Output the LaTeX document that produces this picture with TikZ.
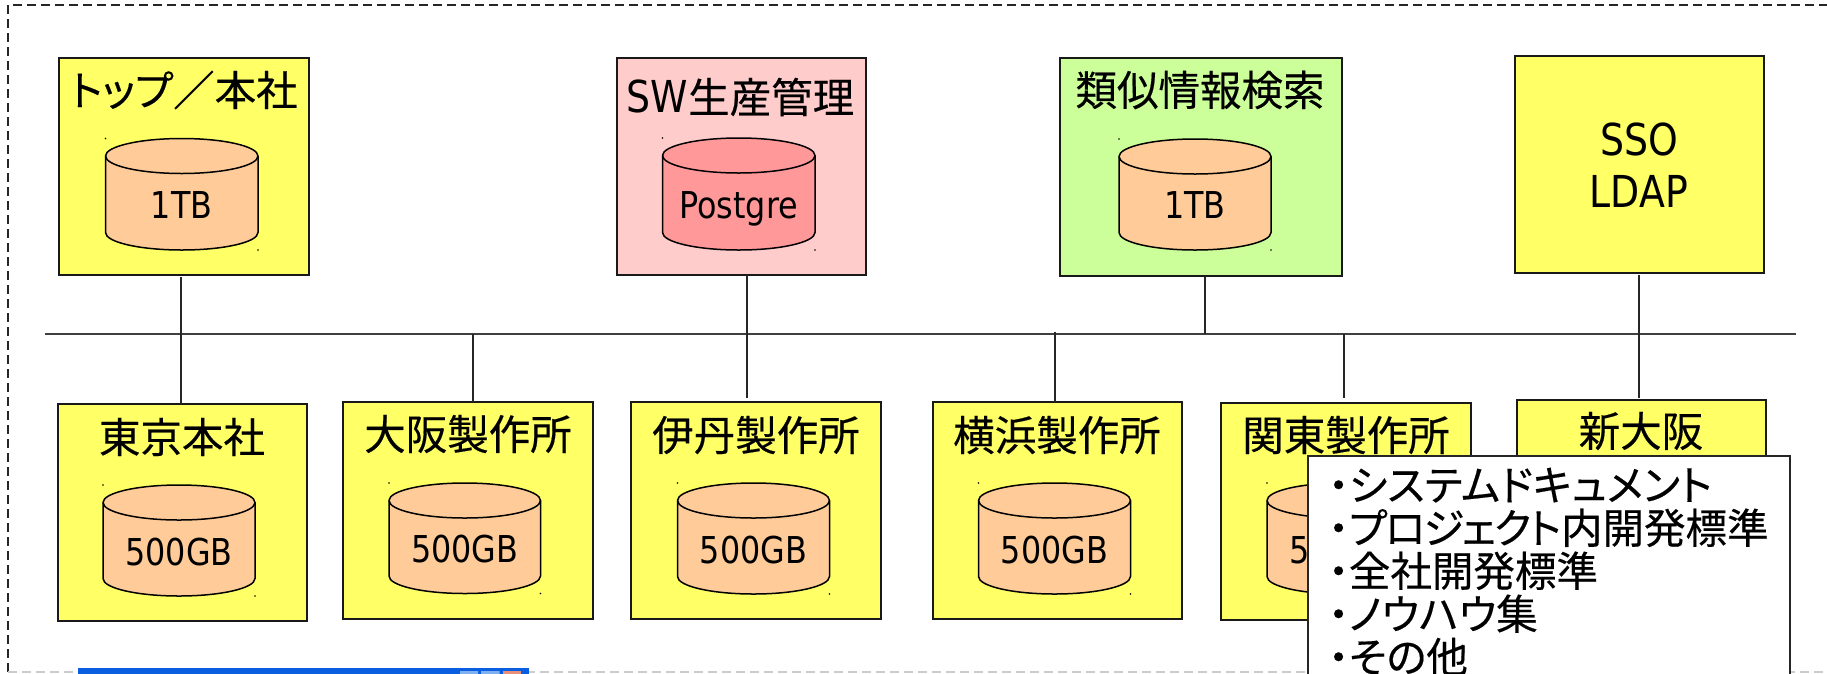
\documentclass[tikz,border=0pt]{standalone}
\usepackage{fontspec}
\setmainfont{Noto Sans CJK JP}[RawFeature=+palt, FakeBold=0.35]
\newfontfamily\latinfont{DejaVu Sans}[FakeStretch=0.86]
\usepackage{xcolor}
\definecolor{SiteYellow}{HTML}{FFFF66}
\definecolor{SitePink}{HTML}{FFCCCC}
\definecolor{SiteGreen}{HTML}{CCFF99}
\definecolor{DrumOrange}{HTML}{FFCC99}
\definecolor{DrumRed}{HTML}{FF9999}
\definecolor{WinBlue}{HTML}{0A5FE0}
\definecolor{WinButton}{HTML}{7FB0F0}
\definecolor{WinClose}{HTML}{E8907A}
\newcommand*{\sitefont}{\fontsize{41.5}{43}\selectfont\color{black}}
\newcommand*{\drumfont}{\latinfont\fontsize{37}{52}\selectfont\color{black}}
\newcommand*{\bigfont}{\latinfont\fontsize{44}{52}\selectfont\color{black}}
\tikzset{
  sitebox/.style = {draw = black!90, line width = 2pt, inner sep = 0pt, outer sep = 0pt},
  sitelabel/.style = {inner sep = 0pt, font = \sitefont, yshift = -2pt},
  drumlabel/.style = {inner sep = 0pt, font = \drumfont, align = center, text depth = 0pt},
  drumline/.style = {draw = black, line width = 1.5pt},
  netline/.style = {draw = black!85, line width = 2pt},
  busline/.style = {draw = black!75, line width = 2pt},
}
\newcommand{\sitesquare}[6]{%
% name, left, top, right, bottom, fill
  \pgfmathsetmacro{\siteW}{#4-#2}
  \pgfmathsetmacro{\siteH}{#5-#3}
  \node[sitebox, fill = #6, minimum width = \siteW pt, minimum height = \siteH pt]
    (#1) at ({(#2+#4)/2},{(#3+#5)/2}) {};
}
\newcommand{\dbdrum}[7]{%
% name, left, top, right, bottom, fill, text
  \pgfmathsetmacro{\drumRx}{(#4-#2)/2}
  \filldraw[drumline, fill = #6] (#2,#3+17.5)
    arc[start angle = 180, end angle = 0, x radius = \drumRx pt, y radius = 17.5pt]
    -- (#4,#5-17.5)
    arc[start angle = 0, end angle = -180, x radius = \drumRx pt, y radius = 17.5pt]
    -- cycle;
  \draw[drumline] (#2,#3+17.5)
    arc[start angle = 180, end angle = 360, x radius = \drumRx pt, y radius = 17.5pt];
  \fill (#2,#3) circle[radius = 0.8pt] (#4,#5) circle[radius = 0.8pt];
  \node[drumlabel] (#1) at ({(#2+#4)/2},{(#3+#5)/2+11}) {#7};
}

\begin{document}
\begin{tikzpicture}[x = 1pt, y = -1pt]
  \useasboundingbox (0,0) rectangle (1827,673);
  \clip (0,0) rectangle (1827,673);
  \fill[white] (0,0) rectangle (1827,673);
  % outer frame
  \draw[black!85, line width = 1.5pt, dash pattern = on 9pt off 5pt] (8,672) -- (8,5) -- (1827,5);
  \draw[black!20, line width = 1.5pt, dash pattern = on 9pt off 5pt] (8,672) -- (1827,672);
  % the network
  \coordinate (busleft) at (45,333.5);
  \coordinate (busright) at (1796,333.5);
  \foreach \tapname/\tapx in {tapa/181, tapb/473.3, tapc/746.5, tapd/1054.5, tape/1204.5, tapf/1344.4, tapg/1638.8}
    \coordinate (\tapname) at (\tapx,333.5);
  % upper row
  \sitesquare{hq}{59}{58}{308.5}{275}{SiteYellow}
  \sitesquare{swprod}{616.5}{58}{866}{275}{SitePink}
  \sitesquare{similar}{1060}{58}{1341.5}{275.5}{SiteGreen}
  \sitesquare{sso}{1515}{56}{1763.5}{272.5}{SiteYellow}
  % lower row
  \sitesquare{tokyo}{57.5}{404}{307}{621}{SiteYellow}
  \sitesquare{osaka}{343}{402}{592.5}{618.5}{SiteYellow}
  \sitesquare{itami}{631}{402}{880.5}{619}{SiteYellow}
  \sitesquare{yokohama}{933}{402}{1182}{619}{SiteYellow}
  \sitesquare{kanto}{1221}{402.5}{1471}{619.5}{SiteYellow}
  \sitesquare{shinosaka}{1517}{399.5}{1766}{616}{SiteYellow}
  % connectors
  \draw[busline] (busleft) -- (busright);
  \draw[netline, shorten <= 2pt] (tapa |- hq.south) -- (tapa |- tokyo.north);
  \draw[netline, shorten <= 2pt] (tapb) ++(0,-2) -- (tapb |- osaka.north);
  \draw[netline, shorten >= 4pt] (tapc |- swprod.south) -- (tapc |- itami.north);
  \draw[netline] (tapd) ++(0,-2) -- (tapd |- yokohama.north);
  \draw[netline, shorten <= 1pt] (tape |- similar.south) -- (tape);
  \draw[netline, shorten >= 5pt] (tapf) -- (tapf |- kanto.north);
  \draw[netline, shorten <= 2pt, shorten >= 2pt] (tapg |- sso.south) -- (tapg |- shinosaka.north);
  % site names
  \node[sitelabel] (hqname) at (184,88) {トップ／本社};
  \node[sitelabel] (swname) at (740.5,95) {{\bigfont SW}生産管理};
  \node[sitelabel] (similarname) at (1200,88) {類似情報検索};
  \node[drumlabel, font = \bigfont] (ssoname) at (1639,165) {SSO\\LDAP};
  \node[sitelabel] (tokyoname) at (182,435) {東京本社};
  \node[sitelabel] (osakaname) at (468,432) {大阪製作所};
  \node[sitelabel] (itaminame) at (756,433) {伊丹製作所};
  \node[sitelabel] (yokohamaname) at (1057,433) {横浜製作所};
  \node[sitelabel] (kantoname) at (1346,433) {関東製作所};
  \node[sitelabel] (shinosakaname) at (1641,429) {新大阪};
  % drums
  \dbdrum{hqdrum}{105.5}{138.5}{258}{250}{DrumOrange}{1TB}
  \dbdrum{swdrum}{662.5}{138}{815}{250}{DrumRed}{Postgre}
  \dbdrum{similardrum}{1119}{139}{1271}{250}{DrumOrange}{1TB}
  \dbdrum{tokyodrum}{103}{485}{255}{596}{DrumOrange}{500GB}
  \dbdrum{osakadrum}{389}{483}{540.5}{593.5}{DrumOrange}{500GB}
  \dbdrum{itamidrum}{677.5}{483}{829.5}{594}{DrumOrange}{500GB}
  \dbdrum{yokohamadrum}{978.5}{483}{1130.5}{594}{DrumOrange}{500GB}
  \dbdrum{kantodrum}{1267}{483}{1419}{594}{DrumOrange}{500GB}
  % pop-up list
  \node[draw = black!85, fill = white, line width = 2pt, inner sep = 0pt, anchor = north west,
    minimum width = 482pt, minimum height = 240pt] (listbox) at (1307,455) {};
  \node[sitelabel, anchor = north west, align = left] (listtext) at (1328,465.5)
    {・システムドキュメント\\・{\addfontfeature{LetterSpace=-5}プロジェクト}内開発標準\\・全社開発標準\\・ノウハウ集\\・その他};
  % window edge at the bottom
  \fill[WinBlue] (77.5,668) rectangle (529,674);
  \fill[WinButton] (460,671) rectangle (478,674) (481,671) rectangle (499.5,674);
  \fill[WinClose] (503,671) rectangle (521,674);
\end{tikzpicture}
\end{document}
